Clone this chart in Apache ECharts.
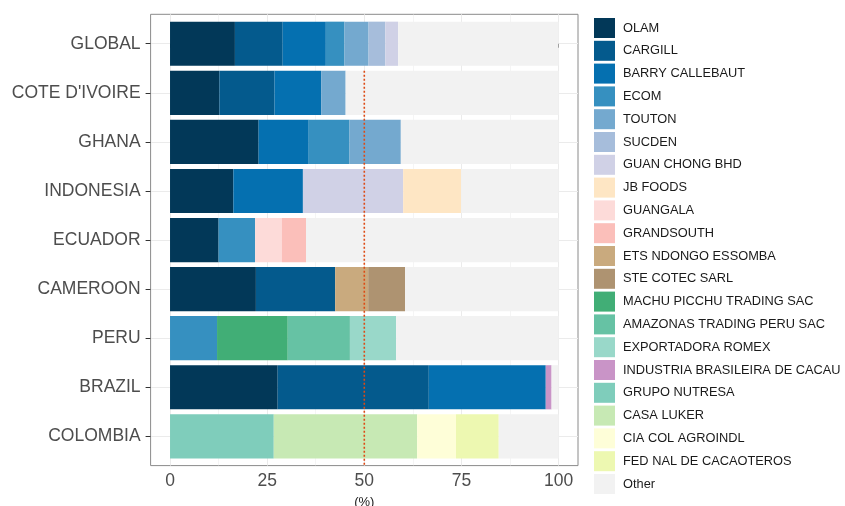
<!DOCTYPE html>
<html>
<head>
<meta charset="utf-8">
<script src="https://cdn.jsdelivr.net/npm/echarts@6/dist/echarts.min.js"></script>
<style>html,body{margin:0;padding:0;background:#fff;}#c{width:845px;height:506px;}</style>
</head>
<body>
<div id="c"></div>
<script>
const categories = ["GLOBAL", "COTE D'IVOIRE", "GHANA", "INDONESIA", "ECUADOR", "CAMEROON", "PERU", "BRAZIL", "COLOMBIA"];
const xTicks = [0, 25, 50, 75, 100];
const xAxisName = "(%)";
const refValue = 50;

const companies = ["OLAM", "CARGILL", "BARRY CALLEBAUT", "ECOM", "TOUTON", "SUCDEN", "GUAN CHONG BHD", "JB FOODS", "GUANGALA", "GRANDSOUTH", "ETS NDONGO ESSOMBA", "STE COTEC SARL", "MACHU PICCHU TRADING SAC", "AMAZONAS TRADING PERU SAC", "EXPORTADORA ROMEX", "INDUSTRIA BRASILEIRA DE CACAU", "GRUPO NUTRESA", "CASA LUKER", "CIA COL AGROINDL", "FED NAL DE CACAOTEROS", "Other"];

//                GLOBAL COTE  GHANA INDO  ECUA  CAME  PERU  BRAZ  COLO
const olam       = [16.7, 12.7, 22.8, 16.3, 12.5, 22.1, 0,    27.7, 0];
const cargill    = [12.3, 14.2, 0,    0,    0,    20.4, 0,    38.9, 0];
const barry      = [11.1, 12.0, 12.9, 17.9, 0,    0,    0,    30.1, 0];
const ecom       = [4.8,  0,    10.5, 0,    9.4,  0,    12.1, 0,    0];
const touton     = [6.2,  6.3,  13.2, 0,    0,    0,    0,    0,    0];
const sucden     = [4.3,  0,    0,    0,    0,    0,    0,    0,    0];
const guanChong  = [3.3,  0,    0,    25.8, 0,    0,    0,    0,    0];
const jbFoods    = [0,    0,    0,    14.9, 0,    0,    0,    0,    0];
const guangala   = [0,    0,    0,    0,    6.9,  0,    0,    0,    0];
const grandsouth = [0,    0,    0,    0,    6.2,  0,    0,    0,    0];
const etsNdongo  = [0,    0,    0,    0,    0,    8.5,  0,    0,    0];
const steCotec   = [0,    0,    0,    0,    0,    9.5,  0,    0,    0];
const machu      = [0,    0,    0,    0,    0,    0,    18.2, 0,    0];
const amazonas   = [0,    0,    0,    0,    0,    0,    16.0, 0,    0];
const romex      = [0,    0,    0,    0,    0,    0,    11.9, 0,    0];
const industria  = [0,    0,    0,    0,    0,    0,    0,    1.5,  0];
const nutresa    = [0,    0,    0,    0,    0,    0,    0,    0,    26.7];
const luker      = [0,    0,    0,    0,    0,    0,    0,    0,    36.9];
const ciaCol     = [0,    0,    0,    0,    0,    0,    0,    0,    10.0];
const fedNal     = [0,    0,    0,    0,    0,    0,    0,    0,    11.0];
const other      = [41.3, 54.8, 40.6, 25.1, 65.0, 39.5, 41.8, 1.8,  15.4];

const seriesValues = [olam, cargill, barry, ecom, touton, sucden, guanChong, jbFoods, guangala, grandsouth, etsNdongo, steCotec, machu, amazonas, romex, industria, nutresa, luker, ciaCol, fedNal, other];

const colors = ['#023858', '#045a8d', '#0570b0', '#3690c0', '#74a9cf', '#a6bddb', '#d0d1e6', '#fee6c4', '#fddbd9', '#fbbfba', '#c9aa7e', '#ae9371', '#41ae76', '#66c2a4', '#99d8c9', '#c994c7', '#7fcdbb', '#c7e9b4', '#fefed8', '#edf8b1', '#f2f2f2'];

const FONT = 'Liberation Sans, Arial, sans-serif';

const chart = echarts.init(document.getElementById('c'), null, {renderer: 'canvas'});

const barSeries = companies.map((name, i) => ({
  name: name,
  type: 'bar',
  stack: 'share',
  xAxisIndex: 2,
  yAxisIndex: 2,
  z: 3,
  barCategoryGap: '10%',
  itemStyle: {color: colors[i]},
  emphasis: {disabled: true},
  data: seriesValues[i]
}));

const G = {containLabel: false, outerBoundsMode: 'none'};

const option = {
  animation: false,
  backgroundColor: '#ffffff',
  textStyle: {fontFamily: FONT},
  grid: [
    Object.assign({left: 150.6, top: 14.3, width: 427.4, height: 451.3, show: true, borderColor: '#8a8a8a', borderWidth: 1, backgroundColor: 'transparent'}, G),
    Object.assign({left: 170, top: 14.3, width: 388.6, height: 451.3}, G),
    Object.assign({left: 150.6, top: 19.2, width: 427.4, height: 441.7}, G),
    Object.assign({left: 150.6, top: 43.7, width: 427.4, height: 392.6}, G)
  ],
  xAxis: [
    {gridIndex: 0, type: 'value', min: 0, max: 1, show: false},
    {gridIndex: 1, type: 'value', min: xTicks[0], max: xTicks[xTicks.length - 1], interval: 25,
      name: xAxisName, nameLocation: 'middle', nameGap: 28,
      nameTextStyle: {fontSize: 13, color: '#1a1a1a', fontFamily: FONT},
      axisLine: {show: false},
      axisTick: {show: true, length: 4, lineStyle: {color: '#333333'}},
      axisLabel: {fontSize: 17.5, color: '#4d4d4d', margin: 7, fontFamily: FONT},
      splitLine: {show: true, lineStyle: {color: '#ebebeb', width: 1}},
      minorTick: {show: false, splitNumber: 2},
      minorSplitLine: {show: true, lineStyle: {color: '#ebebeb', width: 0.5}}
    },
    {gridIndex: 2, type: 'value', min: -5, max: 105, show: false},
    {gridIndex: 3, type: 'value', min: 0, max: 1, show: false}
  ],
  yAxis: [
    {gridIndex: 0, type: 'value', min: 0, max: 1, show: false},
    {gridIndex: 1, type: 'value', min: -0.6, max: 8.6, inverse: true, show: false},
    {gridIndex: 2, type: 'category', data: categories, inverse: true, show: false},
    {gridIndex: 3, type: 'value', min: 0, max: categories.length - 1, interval: 1, inverse: true,
      axisLine: {show: false},
      axisTick: {show: true, length: 5, lineStyle: {color: '#333333'}},
      axisLabel: {fontSize: 17.5, color: '#4d4d4d', margin: 10, fontFamily: FONT,
        formatter: v => categories[Math.round(v)] || ''},
      splitLine: {show: true, lineStyle: {color: '#ebebeb', width: 1}}
    }
  ],
  legend: {
    orient: 'vertical',
    left: 589,
    top: 13,
    itemWidth: 21,
    itemHeight: 20,
    itemGap: 2.8,
    icon: 'rect',
    selectedMode: false,
    data: companies,
    textStyle: {fontSize: 12.8, color: '#1a1a1a', fontFamily: FONT, padding: [0, 0, 0, 3]}
  },
  series: [
    ...barSeries,
    {
      name: 'ref', type: 'line', xAxisIndex: 1, yAxisIndex: 1, z: 10, silent: true,
      symbol: 'none',
      lineStyle: {color: '#dd4a14', width: 1.6, type: [2, 2]},
      data: [[refValue, 0.55], [refValue, 8.6]]
    }
  ]
};
chart.setOption(option);
</script>
</body>
</html>
